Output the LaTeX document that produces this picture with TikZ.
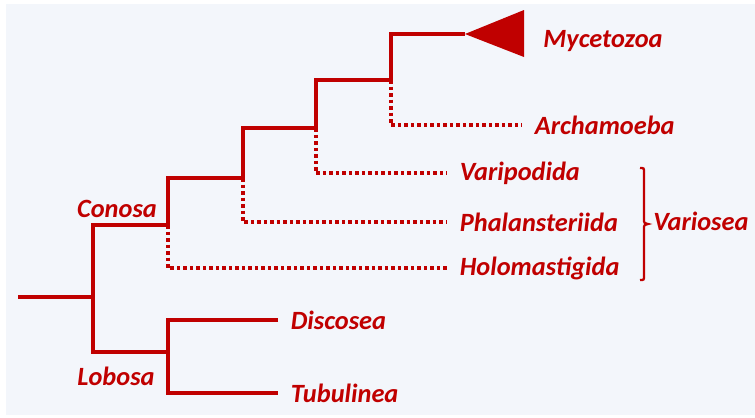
\documentclass[tikz,border=0pt]{standalone}
\usepackage{fontspec}
\setmainfont{Carlito}
\usetikzlibrary{positioning}
\definecolor{treered}{HTML}{C00000}
\definecolor{panelbg}{HTML}{F3F6FB}

\begin{document}
\begin{tikzpicture}[x=0.02cm, y=-0.02cm,
    branch/.style={draw=treered, line width=2pt, line join=miter},
    weak/.style={branch, dash pattern=on 0.07cm off 0.06cm},
    taxon/.style={text=treered, font=\fontsize{15}{17}\selectfont\bfseries\itshape, inner xsep=0.25cm, inner ysep=0pt, anchor=west},
    clade/.style={text=treered, font=\fontsize{15}{17}\selectfont\bfseries\itshape, inner sep=0pt}]
    \useasboundingbox (0,0) rectangle (755,417);
    \fill[panelbg] (6,4) rectangle (755,415);

    % Internal nodes of the tree
    \coordinate (root) at (18,297);
    \coordinate (n0) at (93,297);
    \coordinate (con) at (168,225);
    \coordinate (lob) at (168,352);
    \coordinate (n2) at (243,178);
    \coordinate (n3) at (316,128);
    \coordinate (n4) at (391,80);
    \coordinate (apex) at (465,34);

    % Leaves
    \node[taxon] (disc) at (278,320) {Discosea};
    \node[taxon] (tubu) at (278,393) {Tubulinea};
    \node[taxon] (holo) at (447,268) {Holomastigida};
    \node[taxon] (phal) at (447,222) {Phalansteriida};
    \node[taxon] (vari) at (447,173) {Varipodida};
    \node[taxon] (arch) at (522,125) {Archamoeba};
    \node[taxon, inner xsep=0pt] (myce) at (543,41) {Mycetozoa};

    % Clade names
    \node[clade] (conlbl) at (117,209) {Conosa};
    \node[clade] (loblbl) at (116,376) {Lobosa};

    % Solid branches
    \draw[branch] (root) -- (n0);
    \draw[branch] (con) -| (n0) |- (lob);
    \draw[branch] (disc.west) -| (lob) |- (tubu.west);
    \draw[branch] (con) |- (n2);
    \draw[branch] (n2) |- (n3);
    \draw[branch] (n3) |- (n4);
    \draw[branch] (n4) |- (apex);
    \fill[treered] (apex) -- (524,10) -- (524,57) -- cycle;

    % Uncertain branches
    \draw[weak] (con) |- (holo.west);
    \draw[weak] (n2) |- (phal.west);
    \draw[weak] (n3) |- (vari.west);
    \draw[weak] (n4) |- (arch.west);

    % Variosea bracket
    \coordinate (btop) at (644,168);
    \coordinate (bbot) at (644,280);
    \draw[treered, line width=1.3pt] ([xshift=-0.08cm]btop) .. controls (btop) .. ([yshift=-0.08cm]btop)
        -- (644,219) .. controls (644,223) .. (648,224) .. controls (644,225) .. (644,229)
        -- ([yshift=0.08cm]bbot) .. controls (bbot) .. ([xshift=-0.08cm]bbot);
    \node[clade, anchor=west] (vario) at (653,221) {Variosea};
\end{tikzpicture}
\end{document}
